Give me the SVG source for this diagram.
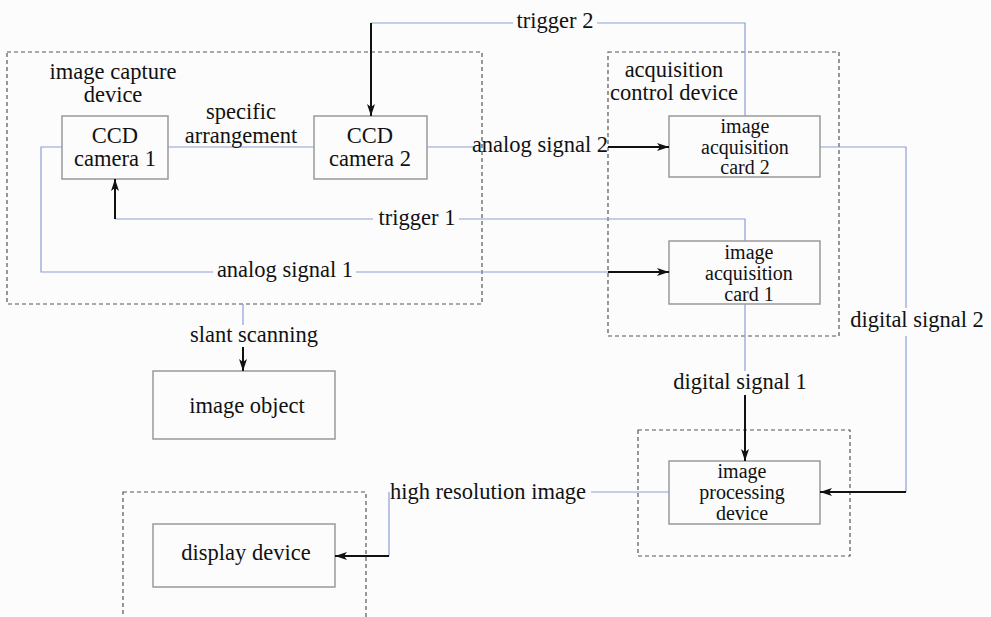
<svg xmlns="http://www.w3.org/2000/svg" width="991" height="617" viewBox="0 0 991 617">
<defs>
<style>
text{font-family:"Liberation Serif","DejaVu Serif","Noto Serif",Times,serif;font-size:22.5px;fill:#111;text-anchor:middle}
.sm{font-size:20px}
.box{fill:none;stroke:#999;stroke-width:1.5}
.grp{fill:none;stroke:#555;stroke-width:1.2;stroke-dasharray:4 3}
.blue{fill:none;stroke:#8d9fd6;stroke-width:1.2}
.arr{fill:none;stroke:#111;stroke-width:2;marker-end:url(#ah)}
</style>
<marker id="ah" markerUnits="userSpaceOnUse" markerWidth="14" markerHeight="10" refX="12" refY="4" orient="auto">
<path d="M0,0 L12,4 L0,8 L3,4 z" fill="#111"/>
</marker>
</defs>
<rect width="991" height="617" fill="#fcfcfc"/>

<g id="capture-device">
<rect class="grp" x="7" y="52" width="475" height="252"/>
<text x="113" y="79">image capture</text>
<text x="113" y="102">device</text>
</g>
<g id="acq-control-device">
<rect class="grp" x="608" y="52" width="231" height="284"/>
<text x="674" y="77">acquisition</text>
<text x="674" y="100">control device</text>
</g>
<g id="processing-group">
<rect class="grp" x="638" y="430" width="212" height="126"/>
</g>
<g id="display-group">
<rect class="grp" x="123" y="492" width="243" height="140"/>
</g>

<g id="ccd1">
<rect class="box" x="62" y="116" width="106" height="63"/>
<text x="115" y="143">CCD</text>
<text x="115" y="166">camera 1</text>
</g>
<g id="ccd2">
<rect class="box" x="314" y="116" width="113" height="63"/>
<text x="370" y="143">CCD</text>
<text x="370" y="166">camera 2</text>
</g>
<g id="card2">
<rect class="box" x="669" y="116" width="151" height="61"/>
<text class="sm" x="745" y="133">image</text>
<text class="sm" x="745" y="154">acquisition</text>
<text class="sm" x="745" y="174">card 2</text>
</g>
<g id="card1">
<rect class="box" x="669" y="241" width="151" height="63"/>
<text class="sm" x="749" y="259">image</text>
<text class="sm" x="749" y="280">acquisition</text>
<text class="sm" x="749" y="301">card 1</text>
</g>
<g id="image-object">
<rect class="box" x="153" y="371" width="182" height="68"/>
<text x="247" y="413">image object</text>
</g>
<g id="processing">
<rect class="box" x="669" y="461" width="151" height="63"/>
<text class="sm" x="742" y="478">image</text>
<text class="sm" x="742" y="499">processing</text>
<text class="sm" x="742" y="520">device</text>
</g>
<g id="display">
<rect class="box" x="153" y="524" width="182" height="63"/>
<text x="246" y="560">display device</text>
</g>

<g id="connectors">
<path class="blue" d="M168,147 H314"/>
<text x="241" y="119">specific</text>
<text x="241" y="143">arrangement</text>
<path class="blue" d="M371,23 H513 M597,23 H745 V116"/>
<path class="arr" d="M371,23 V116"/>
<text x="555" y="28">trigger 2</text>
<path class="blue" d="M427,147 H473"/>
<text x="540" y="152">analog signal 2</text>
<path class="arr" d="M608,147 H669"/>
<path class="blue" d="M115,219 H373 M459,219 H745 V241"/>
<path class="arr" d="M115,219 V179"/>
<text x="417" y="225">trigger 1</text>
<path class="blue" d="M62,147 H41 V272 H213 M356,272 H608"/>
<text x="285" y="277">analog signal 1</text>
<path class="arr" d="M608,272 H669"/>
<path class="blue" d="M820,147 H906 V308 M906,336 V492"/>
<text x="917" y="327">digital signal 2</text>
<path class="arr" d="M906,492 H820"/>
<path class="blue" d="M745,304 V371"/>
<text x="740" y="389">digital signal 1</text>
<path class="arr" d="M745,395 V461"/>
<path class="blue" d="M243,304 V325"/>
<text x="254" y="342">slant scanning</text>
<path class="arr" d="M243,347 V371"/>
<path class="blue" d="M669,492 H591 M389,492 V556"/>
<text x="488" y="499">high resolution image</text>
<path class="arr" d="M389,556 H335"/>
</g>
</svg>
